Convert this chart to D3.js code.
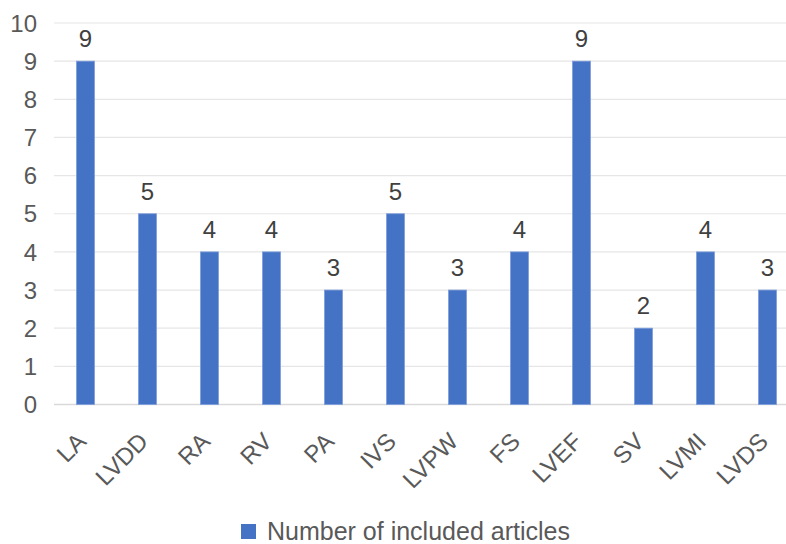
<!DOCTYPE html>
<html><head><meta charset="utf-8">
<script src="https://cdn.jsdelivr.net/npm/d3@7"></script>
<style>body{margin:0;background:#fff;} text{font-family:"Liberation Sans",Arial,sans-serif;}</style>
</head><body><svg id="c" width="786" height="544"></svg>
<script>
const categories = ["LA","LVDD","RA","RV","PA","IVS","LVPW","FS","LVEF","SV","LVMI","LVDS"];
const values = [9,5,4,4,3,5,3,4,9,2,4,3];
const yTicks = [0,1,2,3,4,5,6,7,8,9,10];
const seriesName = "Number of included articles";

const svg = d3.select("#c");
const W = 786;
const x = d3.scaleBand().domain(categories).range([54.5, 798.5]).paddingInner(0.71).paddingOuter(0.355);
const y = d3.scaleLinear().domain([0,10]).range([404.5, 23]);

// gridlines
svg.append("g").selectAll("line").data(yTicks).join("line")
  .attr("x1", 54).attr("x2", W).attr("y1", d=>y(d)).attr("y2", d=>y(d))
  .attr("stroke", d=> d===0 ? "#d9d9d9" : "#e6e6e6").attr("stroke-width", d=> d===0?1.5:1.2);

// y labels
svg.append("g").selectAll("text").data(yTicks).join("text")
  .attr("x", 37).attr("y", d=>y(d)).attr("dy","0.36em").attr("text-anchor","end")
  .attr("font-size", 24).attr("fill","#595959").text(d=>d);

// bars
svg.append("g").selectAll("rect").data(values).join("rect")
  .attr("x",(d,i)=>x(categories[i])).attr("width", x.bandwidth())
  .attr("y", d=>y(d)).attr("height", d=>y(0)-y(d))
  .attr("fill","#4472c4").attr("stroke","#7d9ddb").attr("stroke-width",0.8);

// data labels
svg.append("g").selectAll("text").data(values).join("text")
  .attr("x",(d,i)=>x(categories[i])+x.bandwidth()/2).attr("y", d=>y(d)-14)
  .attr("text-anchor","middle").attr("font-size",24).attr("fill","#404040").text(d=>d);

// category labels
svg.append("g").selectAll("text").data(categories).join("text")
  .attr("transform", d=>`translate(${x(d)+x.bandwidth()/2+2},${443}) rotate(-45)`)
  .attr("text-anchor","end")
  .attr("font-size",24).attr("fill","#595959").text(d=>d);

// legend
const lg = svg.append("g");
lg.append("rect").attr("x",241).attr("y",524).attr("width",15).attr("height",15).attr("fill","#4472c4");
lg.append("text").attr("x",267).attr("y",540).attr("font-size",25).attr("fill","#595959").text(seriesName);
</script></body></html>
